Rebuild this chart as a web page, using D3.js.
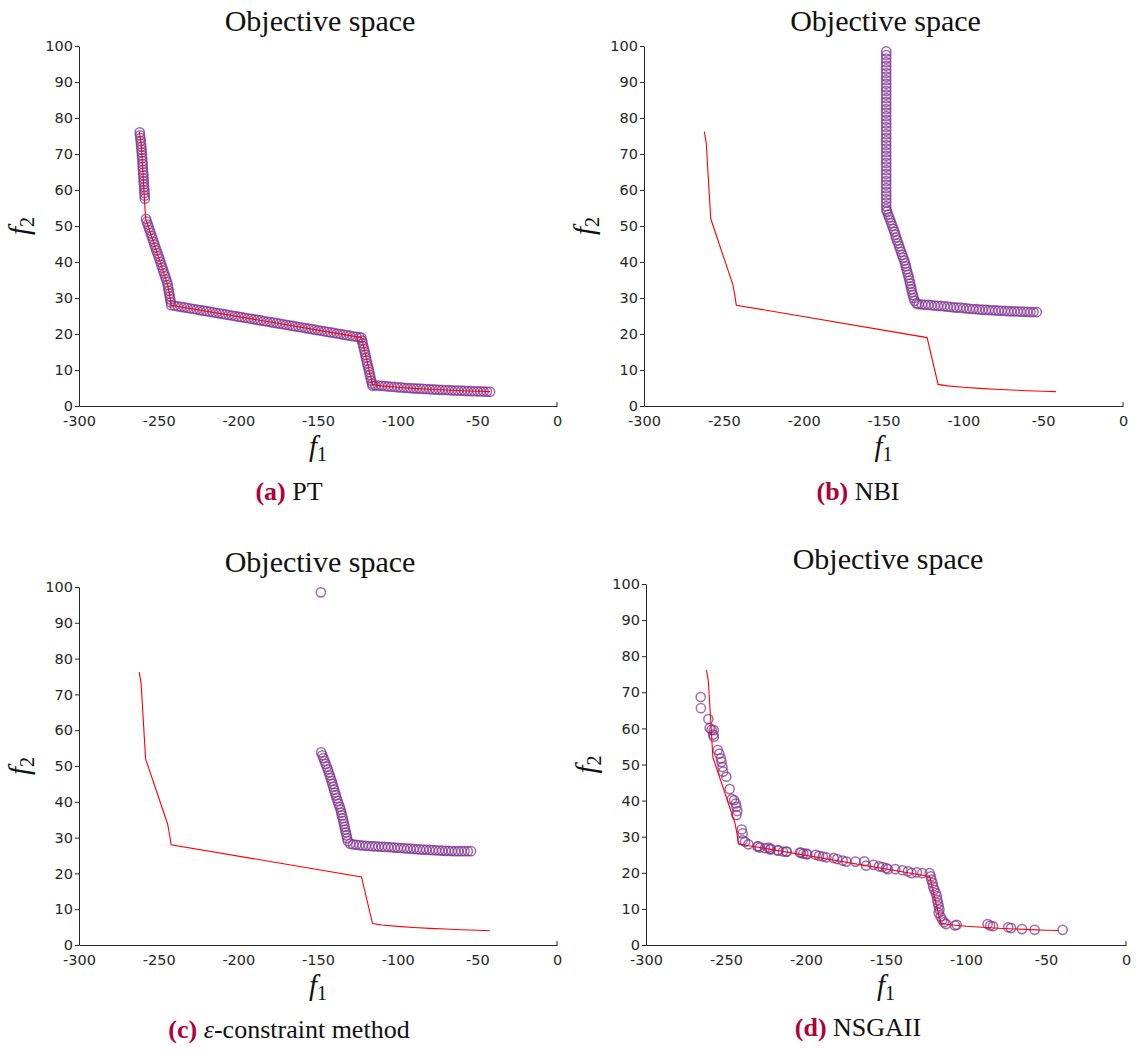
<!DOCTYPE html>
<html>
<head>
<meta charset="utf-8">
<script src="https://cdn.jsdelivr.net/npm/d3@7"></script>
<style>
  body { margin: 0; background: #fff; }
  svg { display: block; }
  .tick text { font-family: "DejaVu Sans", sans-serif; font-size: 14.5px; fill: #262626; }
  .serif { font-family: "Liberation Serif", "Times New Roman", serif; fill: #111; }
</style>
</head>
<body>
<svg id="chart" width="1136" height="1051"></svg>
<script>
////////////////////////////////////////////
// data
////////////////////////////////////////////

const xTicks = [-300, -250, -200, -150, -100, -50, 0];
const yTicks = [0, 10, 20, 30, 40, 50, 60, 70, 80, 90, 100];

// true pareto front (red line)
const frontF1 = [-262.2, -261.0, -258.2, -244.4, -243.2, -242.2, -122.7, -115.8, -110, -100, -90, -80, -70, -60, -50, -42];
const frontF2 = [76.2, 73.0, 52.0, 33.8, 31.0, 28.0, 19.0, 6.0, 5.6, 5.2, 4.9, 4.65, 4.45, 4.25, 4.1, 4.0];

// (a) PT
const ptPoints = [
  [-261.9,76],[-261.7,75.2],[-261.5,74.4],[-261.3,73.6],[-261.1,72.8],[-260.9,72],[-260.8,71.2],[-260.6,70.4],
  [-260.5,69.6],[-260.4,68.8],[-260.2,68],[-260.1,67.2],[-260,66.4],[-259.9,65.6],[-259.7,64.8],[-259.6,64],
  [-259.5,63.2],[-259.4,62.4],[-259.3,61.6],[-259.1,60.8],[-259,60],[-258.9,59.2],[-258.8,58.4],[-258.7,57.6],
  [-258,52],[-257.4,51.2],[-256.8,50.4],[-256.2,49.6],[-255.6,48.8],[-255,48],[-254.4,47.2],[-253.8,46.4],
  [-253.2,45.6],[-252.6,44.8],[-252,44],[-251.4,43.2],[-250.7,42.4],[-250.1,41.6],[-249.5,40.8],[-248.9,40],
  [-248.3,39.2],[-247.7,38.4],[-247.1,37.6],[-246.5,36.8],[-245.9,36],[-245.3,35.2],[-244.7,34.4],[-244.3,33.6],
  [-244,32.8],[-243.7,32],[-243.3,31.2],[-243,30.4],[-242.7,29.6],[-242.4,28.8],[-242.2,28],
  [-240,27.85],[-238,27.7],[-236,27.55],[-234,27.4],[-232,27.24],[-230,27.09],[-228,26.94],[-226,26.79],
  [-224,26.64],[-222,26.49],[-220,26.34],[-218,26.19],[-216,26.03],[-214,25.88],[-212,25.73],[-210,25.58],
  [-208,25.43],[-206,25.28],[-204,25.13],[-202,24.98],[-200,24.82],[-198,24.67],[-196,24.52],[-194,24.37],
  [-192,24.22],[-190,24.07],[-188,23.92],[-186,23.77],[-184,23.61],[-182,23.46],[-180,23.31],[-178,23.16],
  [-176,23.01],[-174,22.86],[-172,22.71],[-170,22.56],[-168,22.41],[-166,22.25],[-164,22.1],[-162,21.95],
  [-160,21.8],[-158,21.65],[-156,21.5],[-154,21.35],[-152,21.2],[-150,21.04],[-148,20.89],[-146,20.74],
  [-144,20.59],[-142,20.44],[-140,20.29],[-138,20.14],[-136,19.99],[-134,19.83],[-132,19.68],[-130,19.53],
  [-128,19.38],[-126,19.23],[-124,19.08],
  [-122.8,19],[-122.4,18.2],[-122,17.4],[-121.6,16.6],[-121.1,15.8],[-120.7,15],[-120.3,14.2],[-119.9,13.4],
  [-119.5,12.6],[-119.1,11.8],[-118.6,11],[-118.2,10.2],[-117.8,9.4],[-117.4,8.6],[-117,7.8],[-116.6,7],
  [-116.1,6.2],[-115.8,5.6],
  [-114,5.7],[-112,5.65],[-110,5.6],[-108,5.5],[-106,5.45],[-104,5.35],[-102,5.3],[-100,5.2],[-98,5.15],
  [-96,5.05],[-94,5.0],[-92,4.95],[-90,4.9],[-88,4.85],[-86,4.8],[-84,4.75],[-82,4.7],[-80,4.65],[-78,4.6],
  [-76,4.55],[-74,4.5],[-72,4.48],[-70,4.45],[-68,4.4],[-66,4.35],[-64,4.3],[-62,4.27],[-60,4.25],[-58,4.2],
  [-56,4.15],[-54,4.12],[-52,4.1],[-50,4.08],[-48,4.05],[-46,4.02],[-44,4.0],[-42,3.95]
];

// (b) NBI
const nbiPoints = [
  [-148.3,98.5],[-148.3,97.5],[-148.3,96.5],[-148.3,95.5],[-148.3,94.5],[-148.3,93.5],[-148.3,92.5],[-148.3,91.5],
  [-148.3,90.5],[-148.3,89.5],[-148.3,88.5],[-148.3,87.5],[-148.3,86.5],[-148.3,85.5],[-148.3,84.5],[-148.3,83.5],
  [-148.3,82.5],[-148.3,81.5],[-148.3,80.5],[-148.3,79.5],[-148.3,78.5],[-148.3,77.5],[-148.3,76.5],[-148.3,75.5],
  [-148.3,74.5],[-148.3,73.5],[-148.3,72.5],[-148.3,71.5],[-148.3,70.5],[-148.3,69.5],[-148.3,68.5],[-148.3,67.5],
  [-148.3,66.5],[-148.3,65.5],[-148.3,64.5],[-148.3,63.5],[-148.3,62.5],[-148.3,61.5],[-148.3,60.5],[-148.3,59.5],
  [-148.3,58.5],[-148.3,57.5],[-148.3,56.5],[-148.3,55.5],[-148.2,54.6],
  [-147.8,54],[-147.1,53.2],[-146.5,52.4],[-145.8,51.6],[-145.1,50.8],[-144.5,50],[-143.8,49.2],[-143.2,48.4],
  [-142.6,47.6],[-142.1,46.8],[-141.5,46],[-140.8,45.2],[-140.2,44.4],[-139.6,43.6],[-139,42.8],[-138.3,42],
  [-137.7,41.2],[-137,40.4],[-136.4,39.6],[-136,38.8],[-135.6,38],[-135.1,37.2],[-134.6,36.4],[-134.1,35.6],
  [-133.7,34.8],[-133.3,34],[-132.9,33.2],[-132.5,32.4],[-132.1,31.6],[-131.6,30.8],[-131.1,30],[-130.5,29.2],
  [-129.3,28.5],
  [-128,28.3],[-126,28.2],[-124,28.1],[-122,28.1],[-120,28.0],[-118,27.9],[-116,27.8],[-114,27.8],[-112,27.7],
  [-110,27.6],[-108,27.5],[-106,27.4],[-104,27.3],[-102,27.3],[-100,27.2],[-98,27.1],[-96,27.0],[-94,26.95],
  [-92,26.9],[-90,26.8],[-88,26.75],[-86,26.7],[-84,26.65],[-82,26.6],[-80,26.55],[-78,26.5],[-76,26.45],
  [-74,26.4],[-72,26.35],[-70,26.3],[-68,26.3],[-66,26.25],[-64,26.2],[-62,26.2],[-60,26.15],[-58,26.1],
  [-56,26.1],[-54,26.1]
];

// (c) epsilon-constraint
const epsPoints = [
  [-148.2,98.5],
  [-148,53.8],[-147.3,53],[-146.6,52.2],[-145.9,51.4],[-145.2,50.6],[-144.5,49.8],[-143.8,49],[-143.2,48.2],
  [-142.6,47.4],[-142.1,46.6],[-141.5,45.8],[-141,45],[-140.4,44.2],[-139.9,43.4],[-139.4,42.6],[-138.8,41.8],
  [-138.3,41],[-137.7,40.2],[-137.1,39.4],[-136.4,38.6],[-135.8,37.8],[-135.4,37],[-135,36.2],[-134.5,35.4],
  [-134.1,34.6],[-133.7,33.8],[-133.3,33],[-132.9,32.2],[-132.5,31.4],[-132.1,30.6],[-131.7,29.8],[-131.3,29],
  [-129.8,28.3],
  [-128,28.1],[-126,28.0],[-124,27.9],[-122,27.8],[-120,27.7],[-118,27.65],[-116,27.6],[-114,27.55],[-112,27.5],
  [-110,27.45],[-108,27.4],[-106,27.35],[-104,27.3],[-102,27.2],[-100,27.15],[-98,27.1],[-96,27.0],[-94,26.95],
  [-92,26.9],[-90,26.8],[-88,26.75],[-86,26.7],[-84,26.65],[-82,26.6],[-80,26.55],[-78,26.5],[-76,26.45],
  [-74,26.4],[-72,26.35],[-70,26.3],[-68,26.3],[-66,26.25],[-64,26.2],[-62,26.2],[-60,26.2],[-58,26.2],
  [-56,26.2],[-54,26.2]
];

// (d) NSGAII
const nsgaPoints = [
  [-265.8,68.7],[-265.7,65.6],[-261.0,62.6],[-260.2,60.1],[-259,59.6],[-257.6,59.5],[-258,58.3],[-257.6,57.7],
  [-255.2,54],[-254.2,53],[-253.2,51.7],[-252.8,50.7],[-252.2,49.3],[-251.8,48],[-249.8,46.6],[-247.7,43.2],
  [-246.3,40.4],[-244.9,40.1],[-243.9,39.2],[-243.5,38.3],[-242.9,37.1],[-243.5,36],[-240.2,32],[-239.6,30.9],
  [-239.6,29],[-238.1,28.6],[-236,27.9],[-229.8,27.3],[-228.8,27],[-223.5,27],[-222.1,26.7],[-217.3,26.2],
  [-212.1,25.9],[-203.8,25.6],[-201.7,25.3],[-199.2,25.1],
  [-230.3,27.3],[-225.7,26.8],[-222.3,26.4],[-217.8,26.2],[-214.4,25.9],[-212.2,25.8],[-203.1,25.6],[-199.7,25.3],
  [-194,25],[-191.8,24.7],[-189.5,24.5],[-187.3,24.3],[-182.7,24.1],[-180.5,23.8],[-177.1,23.4],[-174.8,23.1],
  [-169.1,23.1],[-163.5,23.2],[-162.4,22],[-157.8,22.2],[-154.4,21.8],[-152.2,21.6],[-149.9,21.3],[-148.8,21],
  [-144.2,21],[-139.7,20.7],[-136.3,20.4],[-134.1,19.9],[-130.7,20.1],[-127.3,19.9],
  [-122.7,19.9],[-122,19],[-121.6,18.1],[-120.9,17.2],[-120.5,16.2],[-119.8,15.3],[-118.9,14.4],[-118.2,13.5],
  [-118,12.5],[-117.5,11.6],[-117.1,10.7],[-116.6,9.8],[-117.1,8.9],[-115.9,7.9],[-114.8,7],[-113.7,6.3],
  [-112.5,5.8],[-106.9,5.4],[-105.8,5.6],
  [-86.5,5.8],[-84.9,5.4],[-83.1,5.2],[-73.6,4.9],[-71.8,4.7],[-65,4.4],[-57.1,4.2],[-39.6,4.2]
];

////////////////////////////////////////////
// layout
////////////////////////////////////////////

const panels = [
  {tag: "(a)", name: "PT", pts: ptPoints, x0: 79, x1: 557, y0: 46, y1: 406, capX: 289, capY: 500},
  {tag: "(b)", name: "NBI", pts: nbiPoints, x0: 644, x1: 1123, y0: 46, y1: 406, capX: 858, capY: 500},
  {tag: "(c)", name: "eps", pts: epsPoints, x0: 79, x1: 557, y0: 587, y1: 945, capX: 289, capY: 1038},
  {tag: "(d)", name: "NSGAII", pts: nsgaPoints, x0: 646, x1: 1126, y0: 584, y1: 945, capX: 858, capY: 1036}
];

const purple = "#7e2f8e",
      axisCol = "#262626",
      capCol = "#b0003a";

const svg = d3.select("#chart");

panels.forEach(function(p) {
  let x = d3.scaleLinear().domain([-300, 0]).range([p.x0, p.x1]);
  let y = d3.scaleLinear().domain([0, 100]).range([p.y1, p.y0]);
  let g = svg.append("g");

  //	axes
  let xa = g.append("g")
    .attr("transform", "translate(0," + p.y1 + ")")
    .call(d3.axisBottom(x).tickValues(xTicks).tickSize(0).tickSizeOuter(0).tickPadding(10)
      .tickFormat(function(d) { return String(d); }));
  let ya = g.append("g")
    .attr("transform", "translate(" + p.x0 + ",0)")
    .call(d3.axisLeft(y).tickValues(yTicks).tickSize(4).tickSizeOuter(0).tickPadding(2)
      .tickFormat(function(d) { return String(d); }));
  [xa, ya].forEach(function(a) {
    a.select(".domain").attr("stroke", axisCol).attr("stroke-width", 1);
    a.selectAll(".tick line").attr("stroke", axisCol);
  });

  // little stub of the old box at the right end
  g.append("line")
    .attr("x1", p.x1).attr("x2", p.x1)
    .attr("y1", p.y1).attr("y2", p.y1 - 4)
    .attr("stroke", axisCol);

  //	markers
  g.append("g").selectAll("circle")
    .data(p.pts)
    .enter().append("circle")
    .attr("cx", function(d) { return x(d[0]); })
    .attr("cy", function(d) { return y(d[1]); })
    .attr("r", 4.6)
    .attr("fill", "none")
    .attr("stroke", purple)
    .attr("stroke-width", 1.5)
    .attr("stroke-opacity", 0.72);

  //	reference front
  let line = d3.line()
    .x(function(d, i) { return x(frontF1[i]); })
    .y(function(d, i) { return y(frontF2[i]); });
  g.append("path")
    .attr("d", line(frontF1))
    .attr("fill", "none")
    .attr("stroke", "#ff0000")
    .attr("stroke-width", 1.1);

  //	texts
  let cx = (p.x0 + p.x1) / 2;
  g.append("text")
    .attr("class", "serif")
    .attr("x", cx + 2).attr("y", p.y0 - 15.5)
    .attr("text-anchor", "middle")
    .style("font-size", "30px")
    .text("Objective space");

  let f1 = g.append("text")
    .attr("class", "serif")
    .attr("x", cx).attr("y", p.y1 + 50)
    .attr("text-anchor", "middle")
    .style("font-size", "29px");
  f1.append("tspan").style("font-style", "italic").text("f");
  f1.append("tspan").attr("dy", 5).style("font-size", "20px").text("1");

  let f2 = g.append("text")
    .attr("class", "serif")
    .attr("transform", "translate(" + (p.x0 - 50) + "," + ((p.y0 + p.y1) / 2) + ") rotate(-90)")
    .attr("text-anchor", "middle")
    .style("font-size", "29px");
  f2.append("tspan").style("font-style", "italic").text("f");
  f2.append("tspan").attr("dy", 5).style("font-size", "20px").text("2");

  let cap = g.append("text")
    .attr("class", "serif")
    .attr("x", p.capX).attr("y", p.capY)
    .attr("text-anchor", "middle")
    .style("font-size", "26px");
  cap.append("tspan").style("font-weight", "bold").attr("fill", capCol).text(p.tag);
  if (p.name === "eps") {
    cap.append("tspan").text(" ");
    cap.append("tspan").style("font-style", "italic").text("ε");
    cap.append("tspan").text("-constraint method");
  } else {
    cap.append("tspan").text(" " + p.name);
  }
});
</script>
</body>
</html>
